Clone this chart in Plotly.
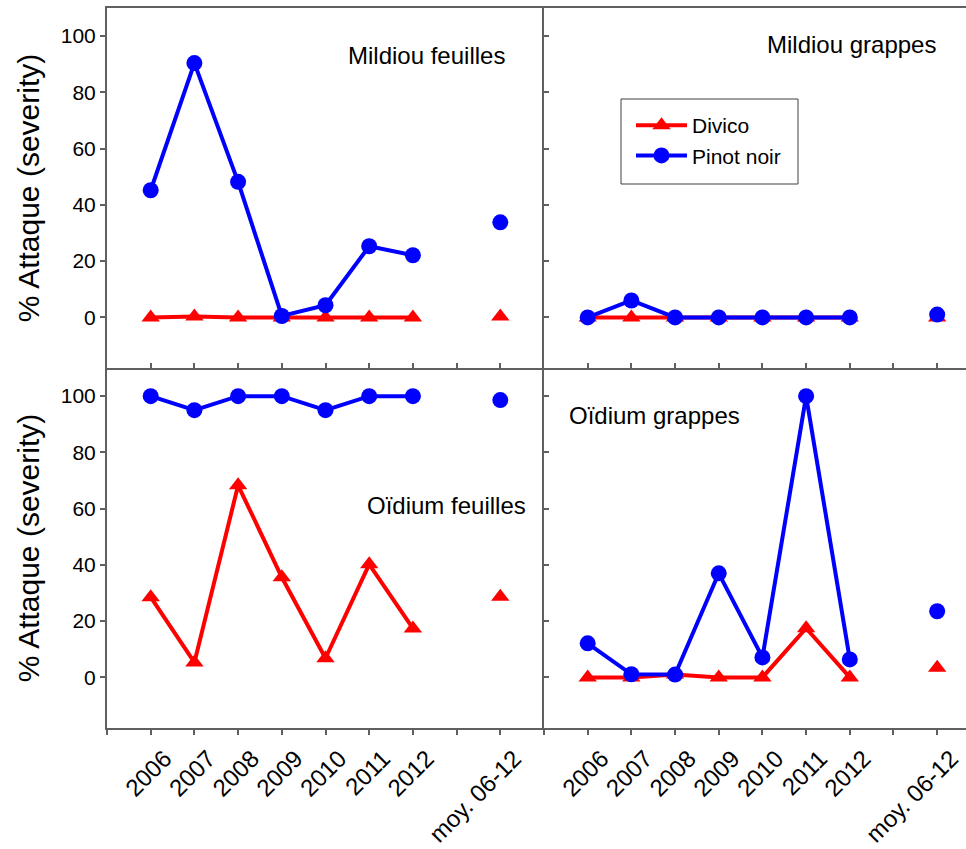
import plotly.graph_objects as go

# Categories on the x axis (numeric slots: 1..7 years, 8 empty gap, 9 mean)
years = ["2006", "2007", "2008", "2009", "2010", "2011", "2012"]
mean_label = "moy. 06-12"
year_pos = [1, 2, 3, 4, 5, 6, 7]
gap_pos = 8
mean_pos = 9

# Mildiou feuilles
mf_divico = [0, 0.3, 0, 0, 0, 0, 0]
mf_divico_moy = 0.3
mf_pinot = [45.2, 90.4, 48.2, 0.5, 4.3, 25.3, 22.1]
mf_pinot_moy = 33.8

# Mildiou grappes
mg_divico = [0, 0, 0, 0, 0, 0, 0]
mg_divico_moy = 0
mg_pinot = [0, 6, 0, 0, 0, 0, 0]
mg_pinot_moy = 1

# Oïdium feuilles
of_divico = [28.5, 5.3, 68.3, 35.6, 6.8, 40.2, 17.4]
of_divico_moy = 28.7
of_pinot = [100, 95, 100, 100, 95, 100, 100]
of_pinot_moy = 98.6

# Oïdium grappes
og_divico = [0, 0, 1, 0, 0, 17.5, 0]
og_divico_moy = 3.4
og_pinot = [12.1, 1.1, 1, 37, 7.1, 100, 6.4]
og_pinot_moy = 23.5

y_ticks = [0, 20, 40, 60, 80, 100]

RED = "#FF0000"
BLUE = "#0000FF"
AXIS = "#606060"
FONT = "Liberation Sans, Arial, sans-serif"

W, H = 966, 849
ML, MR, MT, MB = 107, 0, 8, 121
plot_w = W - ML - MR
plot_h = H - MT - MB
split = 437 / plot_w


def px_x(p):
    return (p - ML) / plot_w


def px_y(p):
    return 1 - (p - MT) / plot_h


fig = go.Figure()

panels = [
    # (x axis, y axis, divico, divico mean, pinot, pinot mean, label, label x, label y)
    ("x", "y", mf_divico, mf_divico_moy, mf_pinot, mf_pinot_moy, "Mildiou feuilles", 7.32, 93.2),
    ("x2", "y2", mg_divico, mg_divico_moy, mg_pinot, mg_pinot_moy, "Mildiou grappes", 7.05, 97.2),
    ("x3", "y3", of_divico, of_divico_moy, of_pinot, of_pinot_moy, "Oïdium feuilles", 7.76, 61.2),
    ("x4", "y4", og_divico, og_divico_moy, og_pinot, og_pinot_moy, "Oïdium grappes", 2.52, 93.2),
]

xs = year_pos + [gap_pos, mean_pos]
annotations = []
for i, (xa, ya, dv, dv_m, pn, pn_m, label, lx, ly) in enumerate(panels):
    show = (i == 1)
    fig.add_trace(go.Scatter(
        x=xs, y=dv + [None, dv_m], xaxis=xa, yaxis=ya,
        mode="lines+markers", name="Divico", showlegend=show,
        connectgaps=False, cliponaxis=False,
        line=dict(color=RED, width=4),
        marker=dict(symbol="triangle-up", size=16, color=RED),
    ))
    fig.add_trace(go.Scatter(
        x=xs, y=pn + [None, pn_m], xaxis=xa, yaxis=ya,
        mode="lines+markers", name="Pinot noir", showlegend=show,
        connectgaps=False, cliponaxis=False,
        line=dict(color=BLUE, width=4),
        marker=dict(symbol="circle", size=16, color=BLUE),
    ))
    annotations.append(dict(
        x=lx, y=ly, xref=xa, yref=ya, text=label, showarrow=False,
        font=dict(family=FONT, size=24, color="black"),
        xanchor="center", yanchor="middle",
    ))

tick_vals_x = list(range(0, 11))
tick_text_x = [""] + years + ["", mean_label, ""]

common_x = dict(
    showgrid=False, zeroline=False, showline=True, linecolor=AXIS, linewidth=2,
    tickcolor=AXIS, tickwidth=1.5, ticklen=5,
    tickmode="array", tickvals=tick_vals_x,
)
common_y = dict(
    showgrid=False, zeroline=False, showline=True, linecolor=AXIS, linewidth=2,
    tickcolor=AXIS, tickwidth=1.5, ticklen=5, range=[-18, 110],
    tickmode="array", tickvals=y_ticks,
)

ytitle = dict(text="% Attaque (severity)", font=dict(family=FONT, size=30, color="black"), standoff=12)

# Legend frame
shapes = [dict(
    type="rect", xref="paper", yref="paper",
    x0=px_x(621), x1=px_x(798), y0=px_y(184), y1=px_y(99),
    line=dict(color="#404040", width=1), fillcolor="white", layer="below",
)]

fig.update_layout(
    width=W, height=H,
    margin=dict(l=ML, r=MR, t=MT, b=MB, pad=0),
    paper_bgcolor="white", plot_bgcolor="white",
    font=dict(family=FONT, color="black"),
    showlegend=True,
    legend=dict(
        x=px_x(631), y=px_y(105),
        xanchor="left", yanchor="top",
        bgcolor="rgba(0,0,0,0)", borderwidth=0,
        font=dict(family=FONT, size=21, color="black"),
        itemwidth=51,
    ),
    shapes=shapes,
    annotations=annotations,
    xaxis=dict(common_x, domain=[0, split], anchor="y", range=[0, 10],
               ticks="inside", showticklabels=False, mirror=True),
    xaxis2=dict(common_x, domain=[split, 1], anchor="y2", range=[0, 9.66],
                ticks="inside", showticklabels=False, mirror=True),
    xaxis3=dict(common_x, domain=[0, split], anchor="y3", range=[0, 10],
                ticks="outside", ticktext=tick_text_x, tickangle=-45,
                tickfont=dict(family=FONT, size=24, color="black"),
                ticklabelshift=14),
    xaxis4=dict(common_x, domain=[split, 1], anchor="y4", range=[0, 9.66],
                ticks="outside", ticktext=tick_text_x, tickangle=-45,
                tickfont=dict(family=FONT, size=24, color="black"),
                ticklabelshift=14),
    yaxis=dict(common_y, domain=[0.5, 1], anchor="x", ticks="outside",
               tickfont=dict(family=FONT, size=21, color="black"), title=ytitle),
    yaxis2=dict(common_y, domain=[0.5, 1], anchor="x2", ticks="inside", showticklabels=False),
    yaxis3=dict(common_y, domain=[0, 0.5], anchor="x3", ticks="outside",
                tickfont=dict(family=FONT, size=21, color="black"), title=ytitle),
    yaxis4=dict(common_y, domain=[0, 0.5], anchor="x4", ticks="inside", showticklabels=False),
)

fig.write_html("out.html")
